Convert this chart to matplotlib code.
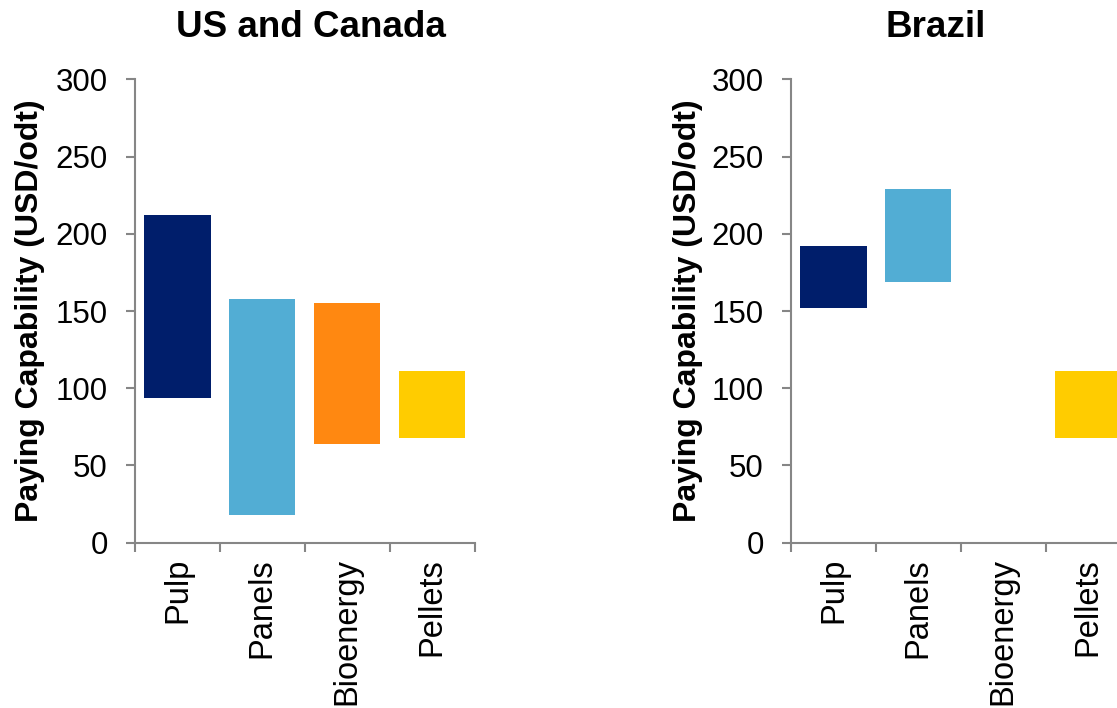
import matplotlib
matplotlib.use("Agg")
import matplotlib.pyplot as plt
from matplotlib.ticker import FixedLocator, NullFormatter

plt.rcParams["font.family"] = ["Liberation Sans", "DejaVu Sans"]

categories = ["Pulp", "Panels", "Bioenergy", "Pellets"]
colors = ["#001E6B", "#52ADD4", "#FF8811", "#FFCC00"]

# Paying capability ranges (low, high) in USD/odt
us_low = [94, 18, 64, 68]
us_high = [212, 158, 155, 111]
br_low = [152, 169, None, 68]
br_high = [192, 229, None, 111]

yticks = [0, 50, 100, 150, 200, 250, 300]
ylabel = "Paying Capability (USD/odt)"
titles = ["US and Canada", "Brazil"]

W, H = 1117, 708
fig = plt.figure(figsize=(W / 100, H / 100), dpi=100)

axis_gray = "#868686"


def draw_panel(left_px, lows, highs):
    ax = fig.add_axes([left_px / W, (H - 542.7) / H, 339.5 / W, 463.4 / H])
    x = list(range(len(categories)))
    for i, (lo, hi) in enumerate(zip(lows, highs)):
        if lo is None:
            continue
        ax.bar(i, hi - lo, bottom=lo, width=0.78, color=colors[i],
               edgecolor="none")
    ax.set_xlim(-0.5, len(categories) - 0.5)
    ax.set_ylim(0, 300)
    ax.set_yticks(yticks)
    ax.set_xticks(x)
    ax.set_xticklabels(categories, rotation=90, fontsize=23.5)
    ax.xaxis.set_minor_locator(FixedLocator([i - 0.5 for i in range(len(categories) + 1)]))
    ax.xaxis.set_minor_formatter(NullFormatter())
    ax.tick_params(axis="x", which="major", length=0, pad=11)
    ax.tick_params(axis="x", which="minor", length=6.5, width=1.5,
                   color=axis_gray, direction="out")
    ax.tick_params(axis="y", which="major", length=6.5, width=1.5,
                   color=axis_gray, direction="out", pad=13, labelsize=22.5)
    for s in ("top", "right"):
        ax.spines[s].set_visible(False)
    for s in ("left", "bottom"):
        ax.spines[s].set_color(axis_gray)
        ax.spines[s].set_linewidth(1.5)
    return ax


draw_panel(135, us_low, us_high)
draw_panel(791, br_low, br_high)

# Panel titles and y-axis labels
fig.text(311 / W, (H - 36.7) / H, titles[0], ha="center", va="baseline",
         fontsize=26.5, fontweight="bold")
fig.text(935.5 / W, (H - 36.7) / H, titles[1], ha="center", va="baseline",
         fontsize=26.5, fontweight="bold")
fig.text(30 / W, (H - 311) / H, ylabel, rotation=90, ha="center",
         va="center", fontsize=23, fontweight="bold")
fig.text(688 / W, (H - 311) / H, ylabel, rotation=90, ha="center",
         va="center", fontsize=23, fontweight="bold")

fig.savefig("out.png", dpi=100, facecolor="white")
